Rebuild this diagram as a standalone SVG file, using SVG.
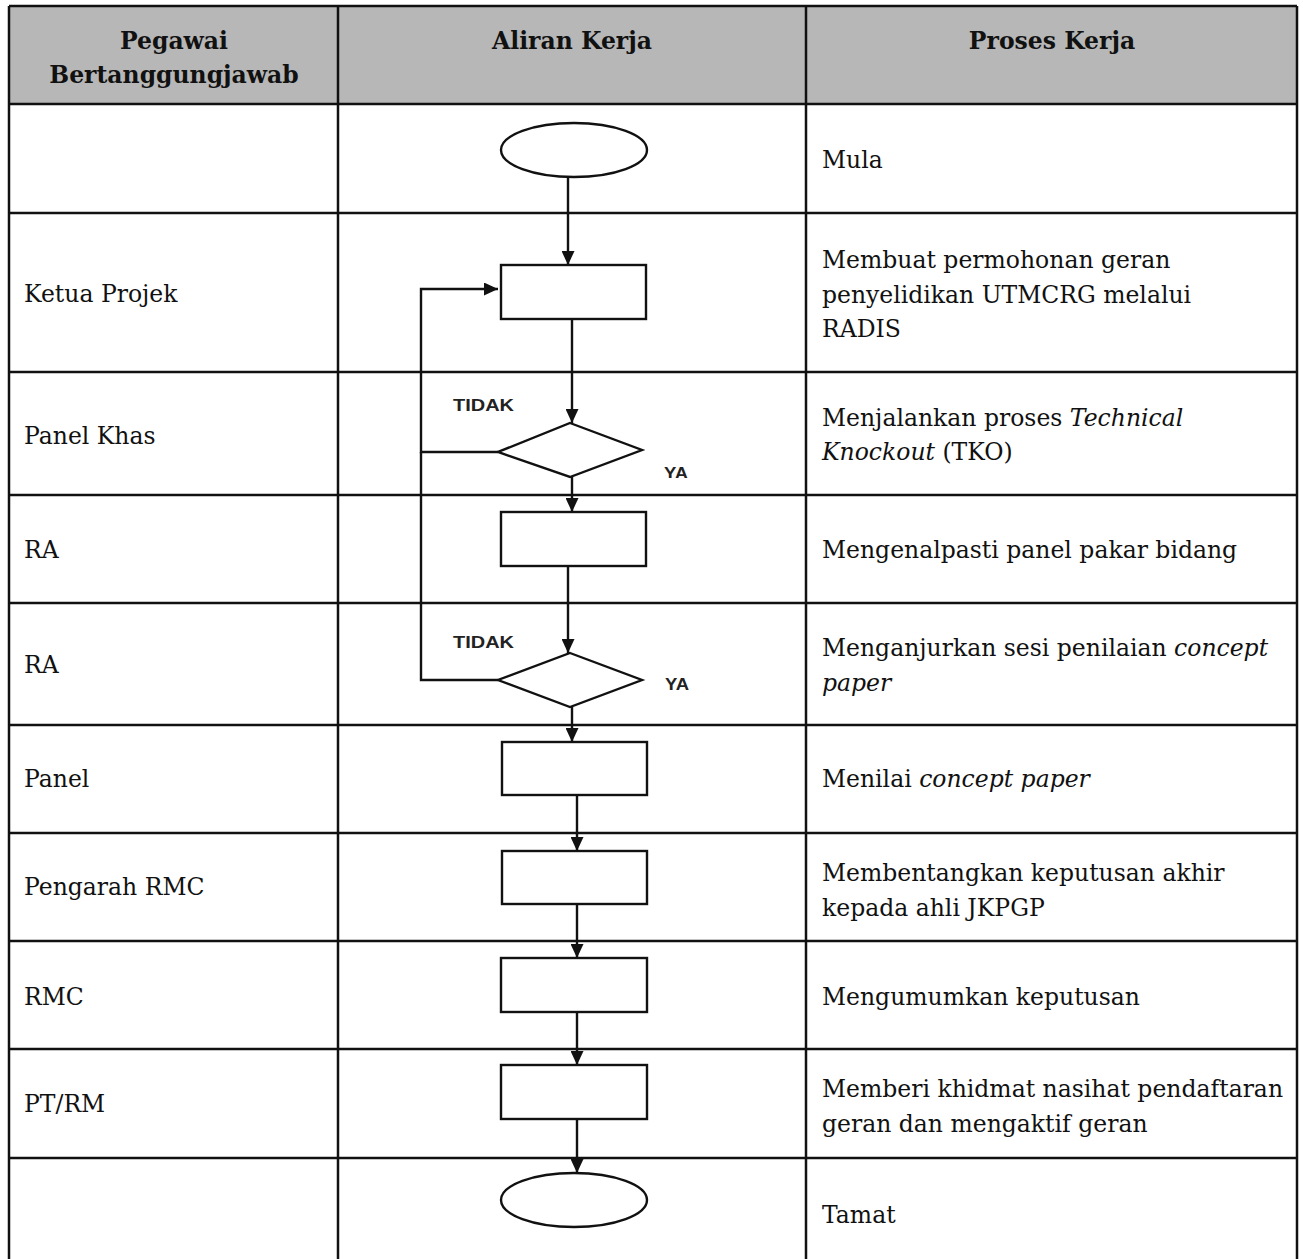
<svg xmlns="http://www.w3.org/2000/svg" width="1303" height="1259" viewBox="0 0 1303 1259">
<style>
.grid{stroke:#111;stroke-width:2.5;fill:none}
.hdr{fill:#b7b7b7}
.th{font-family:"DejaVu Serif","Liberation Serif",serif;font-weight:bold;font-size:23.5px;fill:#111;text-anchor:middle}
.td{font-family:"DejaVu Serif","Liberation Serif",serif;font-size:23.5px;fill:#111}
.it{font-style:italic}
.shape{fill:#fff;stroke:#111;stroke-width:2.4}
.con{fill:none;stroke:#111;stroke-width:2.4}
.lbl{font-family:"Liberation Sans",Arial,sans-serif;font-weight:bold;font-size:17px;fill:#222}
</style>
<defs>
<marker id="ah" viewBox="0 0 14 13" refX="14" refY="6.5" markerWidth="14" markerHeight="13" markerUnits="userSpaceOnUse" orient="auto">
<path d="M0,0 L14,6.5 L0,13 z" fill="#111"/>
</marker>
<clipPath id="yaClip"><rect x="650" y="450" width="60" height="28"/></clipPath>
</defs>
<rect width="1303" height="1259" fill="#fff"/>
<g id="table">
<rect class="hdr" x="9" y="6" width="1288" height="98"/>
<path class="grid" d="M9,6 H1297 M9,6 V1259 M1297,6 V1259 M338,6 V1259 M806,6 V1259 M9,104 H1297 M9,213 H1297 M9,372 H1297 M9,495 H1297 M9,603 H1297 M9,725 H1297 M9,833 H1297 M9,941 H1297 M9,1049 H1297 M9,1158 H1297"/>
<text class="th" x="174" y="49">Pegawai</text>
<text class="th" x="174" y="83">Bertanggungjawab</text>
<text class="th" x="572" y="49">Aliran Kerja</text>
<text class="th" x="1052" y="49">Proses Kerja</text>
</g>
<g id="col-pegawai">
<text class="td" x="24" y="302">Ketua Projek</text>
<text class="td" x="24" y="444">Panel Khas</text>
<text class="td" x="24" y="558">RA</text>
<text class="td" x="24" y="673">RA</text>
<text class="td" x="24" y="787">Panel</text>
<text class="td" x="24" y="895">Pengarah RMC</text>
<text class="td" x="24" y="1005">RMC</text>
<text class="td" x="24" y="1112">PT/RM</text>
</g>
<g id="col-proses">
<text class="td" x="822" y="168">Mula</text>
<text class="td" x="822" y="268">Membuat permohonan geran</text>
<text class="td" x="822" y="303">penyelidikan UTMCRG melalui</text>
<text class="td" x="822" y="337">RADIS</text>
<text class="td" x="822" y="426">Menjalankan proses <tspan class="it">Technical</tspan></text>
<text class="td" x="822" y="460"><tspan class="it">Knockout</tspan> (TKO)</text>
<text class="td" x="822" y="558">Mengenalpasti panel pakar bidang</text>
<text class="td" x="822" y="656">Menganjurkan sesi penilaian <tspan class="it">concept</tspan></text>
<text class="td" x="822" y="691"><tspan class="it">paper</tspan></text>
<text class="td" x="822" y="787">Menilai <tspan class="it">concept paper</tspan></text>
<text class="td" x="822" y="881">Membentangkan keputusan akhir</text>
<text class="td" x="822" y="916">kepada ahli JKPGP</text>
<text class="td" x="822" y="1005">Mengumumkan keputusan</text>
<text class="td" x="822" y="1097">Memberi khidmat nasihat pendaftaran</text>
<text class="td" x="822" y="1132">geran dan mengaktif geran</text>
<text class="td" x="822" y="1223">Tamat</text>
</g>
<g id="connectors">
<path class="con" d="M568,177 V265" marker-end="url(#ah)"/>
<path class="con" d="M572,319 V423" marker-end="url(#ah)"/>
<path class="con" d="M572,477 V512" marker-end="url(#ah)"/>
<path class="con" d="M568,566 V653" marker-end="url(#ah)"/>
<path class="con" d="M572,707 V742" marker-end="url(#ah)"/>
<path class="con" d="M577,795 V851" marker-end="url(#ah)"/>
<path class="con" d="M577,904 V958" marker-end="url(#ah)"/>
<path class="con" d="M577,1012 V1065" marker-end="url(#ah)"/>
<path class="con" d="M577,1119 V1173" marker-end="url(#ah)"/>
<path class="con" d="M498,452 H421 V289 H498" marker-end="url(#ah)"/>
<path class="con" d="M498,680 H421 V452"/>
<text class="lbl" x="453" y="411" textLength="61" lengthAdjust="spacingAndGlyphs">TIDAK</text>
<text class="lbl" x="664" y="479" clip-path="url(#yaClip)" textLength="24" lengthAdjust="spacingAndGlyphs">YA</text>
<text class="lbl" x="453" y="648" textLength="61" lengthAdjust="spacingAndGlyphs">TIDAK</text>
<text class="lbl" x="665" y="690" textLength="24" lengthAdjust="spacingAndGlyphs">YA</text>
</g>
<g id="node-mula"><ellipse class="shape" cx="574" cy="150" rx="73" ry="27"/></g>
<g id="node-permohonan"><rect class="shape" x="501" y="265" width="145" height="54"/></g>
<g id="node-tko"><path class="shape" d="M570,423 L642,450 L570,477 L498,452 Z"/></g>
<g id="node-kenalpasti"><rect class="shape" x="501" y="512" width="145" height="54"/></g>
<g id="node-sesi"><path class="shape" d="M570,653 L642,680 L570,707 L498,680 Z"/></g>
<g id="node-menilai"><rect class="shape" x="502" y="742" width="145" height="53"/></g>
<g id="node-bentang"><rect class="shape" x="502" y="851" width="145" height="53"/></g>
<g id="node-umum"><rect class="shape" x="501" y="958" width="146" height="54"/></g>
<g id="node-nasihat"><rect class="shape" x="501" y="1065" width="146" height="54"/></g>
<g id="node-tamat"><ellipse class="shape" cx="574" cy="1200" rx="73" ry="27"/></g>
</svg>
